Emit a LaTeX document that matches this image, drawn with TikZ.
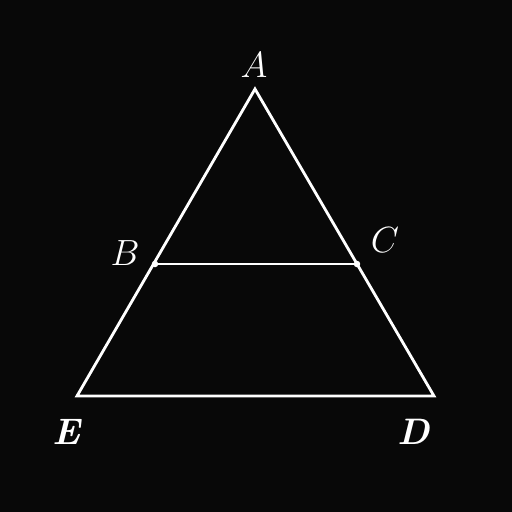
\documentclass[tikz,border=0pt]{standalone}
\definecolor{bg}{HTML}{080808}
\begin{document}
\begin{tikzpicture}[x=0.02cm,y=-0.02cm,
  edge/.style={draw=white,line width=1.6pt,line join=miter},
  lbl/.style={text=white,inner sep=0pt,font=\fontsize{21}{24}\selectfont},
  pt/.style={circle,fill=white,inner sep=0pt,minimum size=0.13cm}]
\fill[bg] (0,0) rectangle (512,512);
\useasboundingbox (0,0) rectangle (512,512);
\coordinate (A) at (255,89);
\coordinate (E) at (77,396);
\coordinate (D) at (434,396);
\node[pt] (B) at (155,264) {};
\node[pt] (C) at (357,264) {};
\draw[edge] (A) -- (E) -- (D) -- cycle;
\draw[edge] (B.center) -- (C.center);
\node[lbl] (lA) at (254,65) {$A$};
\node[lbl] (lB) at (125,253) {$B$};
\node[lbl] (lC) at (385,240) {$C$};
\node[lbl] (lE) at (66,432) {\bfseries\itshape E};
\node[lbl] (lD) at (414,432) {\bfseries\itshape D};
\end{tikzpicture}
\end{document}
